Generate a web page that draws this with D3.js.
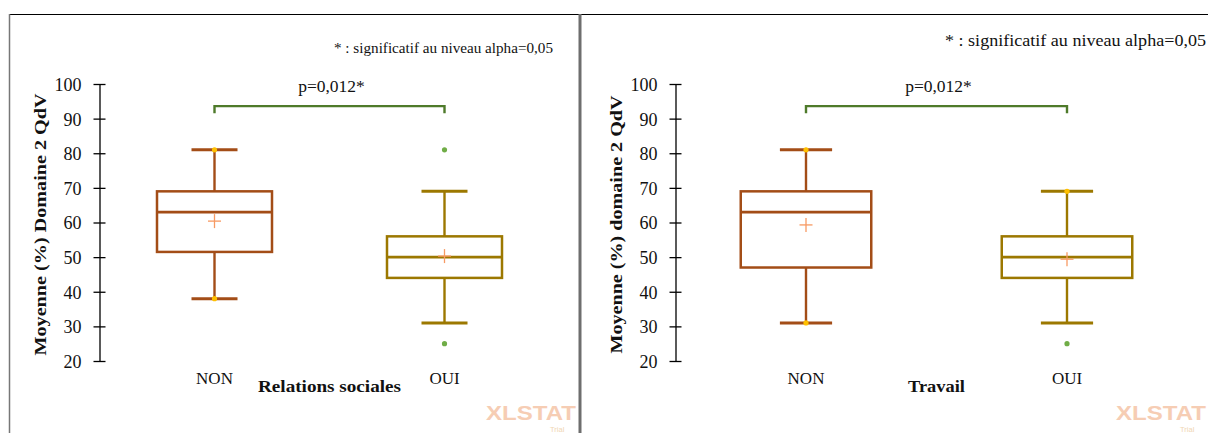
<!DOCTYPE html>
<html>
<head>
<meta charset="utf-8">
<script src="https://cdn.jsdelivr.net/npm/d3@7"></script>
<style>
  html, body { margin: 0; padding: 0; background: #fff; }
  svg { display: block; }
  text { font-family: "Liberation Serif", "DejaVu Serif", serif; }
</style>
</head>
<body>
<svg id="chart" width="1208" height="433"></svg>
<script>
// ---------- data ----------
const categories = ["NON", "OUI"];
const panelTitles = ["Relations sociales", "Travail"];
const yTitles = ["Moyenne (%) Domaine 2 QdV", "Moyenne (%) domaine 2 QdV"];
const yTicks = [20, 30, 40, 50, 60, 70, 80, 90, 100];
const pLabel = "p=0,012*";
const noteLabel = "* : significatif au niveau alpha=0,05";

// Relations sociales
const relMin    = [38, 31];
const relQ1     = [51.5, 44];
const relMedian = [63, 50];
const relQ3     = [69, 56];
const relMax    = [81, 69];
const relMean   = [60.4, 50.3];
const relOutliers = [[], [81, 25]];
const relExtremes = [[81, 38], []];

// Travail
const travMin    = [31, 31];
const travQ1     = [47, 44];
const travMedian = [63, 50];
const travQ3     = [69, 56];
const travMax    = [81, 69];
const travMean   = [59.3, 49.4];
const travOutliers = [[], [25]];
const travExtremes = [[81, 31], [69]];

const bracketValue = 93.6;

// ---------- styles ----------
const boxColors = ["#A34D17", "#9C7800"];
const meanColor = "#F79A63";
const extremeColor = "#FFC000";
const outlierColor = "#70AD47";
const bracketColor = "#4E7A2A";
const textColor = "#111";

const svg = d3.select("#chart");

function fitText(sel, w) {
  if (w) sel.attr("textLength", w).attr("lengthAdjust", "spacingAndGlyphs");
  return sel;
}

// frame
svg.append("line").attr("x1", 9).attr("x2", 1208).attr("y1", 14.5).attr("y2", 14.5)
  .attr("stroke", "#000").attr("stroke-width", 1.2);
svg.append("line").attr("x1", 9.5).attr("x2", 9.5).attr("y1", 14).attr("y2", 433)
  .attr("stroke", "#777").attr("stroke-width", 1.5);
svg.append("line").attr("x1", 580).attr("x2", 580).attr("y1", 14).attr("y2", 433)
  .attr("stroke", "#6e6e6e").attr("stroke-width", 3);

const panels = [
  { axisX: 99.5, range: [99.5, 559.5], title: panelTitles[0], yTitle: yTitles[0], yTitleX: 46,
    min: relMin, q1: relQ1, med: relMedian, q3: relQ3, max: relMax, mean: relMean,
    outliers: relOutliers, extremes: relExtremes,
    note: { x: 553, y: 53, size: 14.5, w: 219 }, titleW: 143, yTitleW: 262,
    wm: 486 },
  { axisX: 675.5, range: [675.5, 1197.5], title: panelTitles[1], yTitle: yTitles[1], yTitleX: 622,
    min: travMin, q1: travQ1, med: travMedian, q3: travQ3, max: travMax, mean: travMean,
    outliers: travOutliers, extremes: travExtremes,
    note: { x: 1206, y: 46, size: 17, w: 261 }, titleW: 57, yTitleW: 258,
    wm: 1116 }
];

const y = d3.scaleLinear().domain([20, 100]).range([361, 84]);

panels.forEach(p => {
  const g = svg.append("g");
  const x = d3.scaleBand().domain(categories).range(p.range);
  const bw = x.bandwidth();
  const cx = c => x(c) + bw / 2;

  // y axis
  const ax = g.append("g").attr("transform", `translate(${p.axisX},0)`)
    .call(d3.axisLeft(y).tickValues(yTicks).tickSizeInner(6).tickSizeOuter(0).tickPadding(12));
  ax.select(".domain").attr("stroke", "#000").attr("stroke-width", 1.3);
  ax.selectAll(".tick line").attr("x2", 6).attr("x1", -6).attr("stroke", "#000").attr("stroke-width", 1.3);
  ax.selectAll(".tick text").style("font-family", "Liberation Serif").style("font-size", "18px")
    .style("fill", textColor).attr("dy", "0.36em");

  // y title
  fitText(g.append("text")
    .attr("transform", `translate(${p.yTitleX},${(y(20) + y(100)) / 2 + 2}) rotate(-90)`)
    .attr("text-anchor", "middle").style("font-size", "17px").style("font-weight", "bold")
    .style("fill", textColor).text(p.yTitle), p.yTitleW);

  // category labels
  g.selectAll(".cat").data(categories).join("text")
    .attr("x", d => cx(d)).attr("y", 384).attr("text-anchor", "middle")
    .style("font-size", "17px").style("fill", textColor).text(d => d);

  // x title
  fitText(g.append("text")
    .attr("x", (cx(categories[0]) + cx(categories[1])) / 2).attr("y", 392)
    .attr("text-anchor", "middle").style("font-size", "17px").style("font-weight", "bold")
    .style("fill", textColor).text(p.title), p.titleW);

  // boxes
  categories.forEach((c, i) => {
    const col = boxColors[i];
    const xc = cx(c);
    const bh = bw * 0.25, ch = bw * 0.1;
    // whiskers
    g.append("line").attr("x1", xc).attr("x2", xc).attr("y1", y(p.max[i])).attr("y2", y(p.q3[i]))
      .attr("stroke", col).attr("stroke-width", 2.4);
    g.append("line").attr("x1", xc).attr("x2", xc).attr("y1", y(p.q1[i])).attr("y2", y(p.min[i]))
      .attr("stroke", col).attr("stroke-width", 2.4);
    // caps
    [p.max[i], p.min[i]].forEach(v => {
      g.append("line").attr("x1", xc - ch).attr("x2", xc + ch).attr("y1", y(v)).attr("y2", y(v))
        .attr("stroke", col).attr("stroke-width", 3);
    });
    // box
    g.append("rect").attr("x", xc - bh).attr("width", 2 * bh)
      .attr("y", y(p.q3[i])).attr("height", y(p.q1[i]) - y(p.q3[i]))
      .attr("fill", "#fff").attr("stroke", col).attr("stroke-width", 2.5);
    g.append("line").attr("x1", xc - bh).attr("x2", xc + bh).attr("y1", y(p.med[i])).attr("y2", y(p.med[i]))
      .attr("stroke", col).attr("stroke-width", 2.8);
    // mean cross
    const my = y(p.mean[i]);
    g.append("line").attr("x1", xc - 6.5).attr("x2", xc + 6.5).attr("y1", my).attr("y2", my)
      .attr("stroke", meanColor).attr("stroke-width", 1.3);
    g.append("line").attr("x1", xc).attr("x2", xc).attr("y1", my - 7).attr("y2", my + 7)
      .attr("stroke", meanColor).attr("stroke-width", 1.3);
    // extremes
    p.extremes[i].forEach(v => {
      g.append("circle").attr("cx", xc).attr("cy", y(v)).attr("r", 2.6).attr("fill", extremeColor);
    });
    // outliers
    p.outliers[i].forEach(v => {
      g.append("circle").attr("cx", xc).attr("cy", y(v)).attr("r", 2.6).attr("fill", outlierColor);
    });
  });

  // significance bracket
  const x0 = cx(categories[0]), x1 = cx(categories[1]);
  const by = y(bracketValue);
  g.append("path")
    .attr("d", `M${x0},${by + 7}V${by}H${x1}V${by + 7}`)
    .attr("fill", "none").attr("stroke", bracketColor).attr("stroke-width", 2.4);
  g.append("text").attr("x", (x0 + x1) / 2 + 2).attr("y", 92).attr("text-anchor", "middle")
    .style("font-size", "17.5px").style("fill", textColor).text(pLabel);

  // note
  fitText(g.append("text").attr("x", p.note.x).attr("y", p.note.y).attr("text-anchor", "end")
    .style("font-size", p.note.size + "px").style("fill", textColor).text(noteLabel), p.note.w);

  // watermark
  g.append("text").attr("x", p.wm).attr("y", 420)
    .style("font-family", "Liberation Sans").style("font-weight", "bold").style("font-size", "21px")
    .style("fill", "#F6CDB4").attr("textLength", 90).attr("lengthAdjust", "spacingAndGlyphs")
    .text("XLSTAT");
  g.append("text").attr("x", p.wm + 64).attr("y", 431.5)
    .style("font-family", "Liberation Sans").style("font-size", "7.5px")
    .style("fill", "#F0D6B4").text("Trial");
});
</script>
</body>
</html>
